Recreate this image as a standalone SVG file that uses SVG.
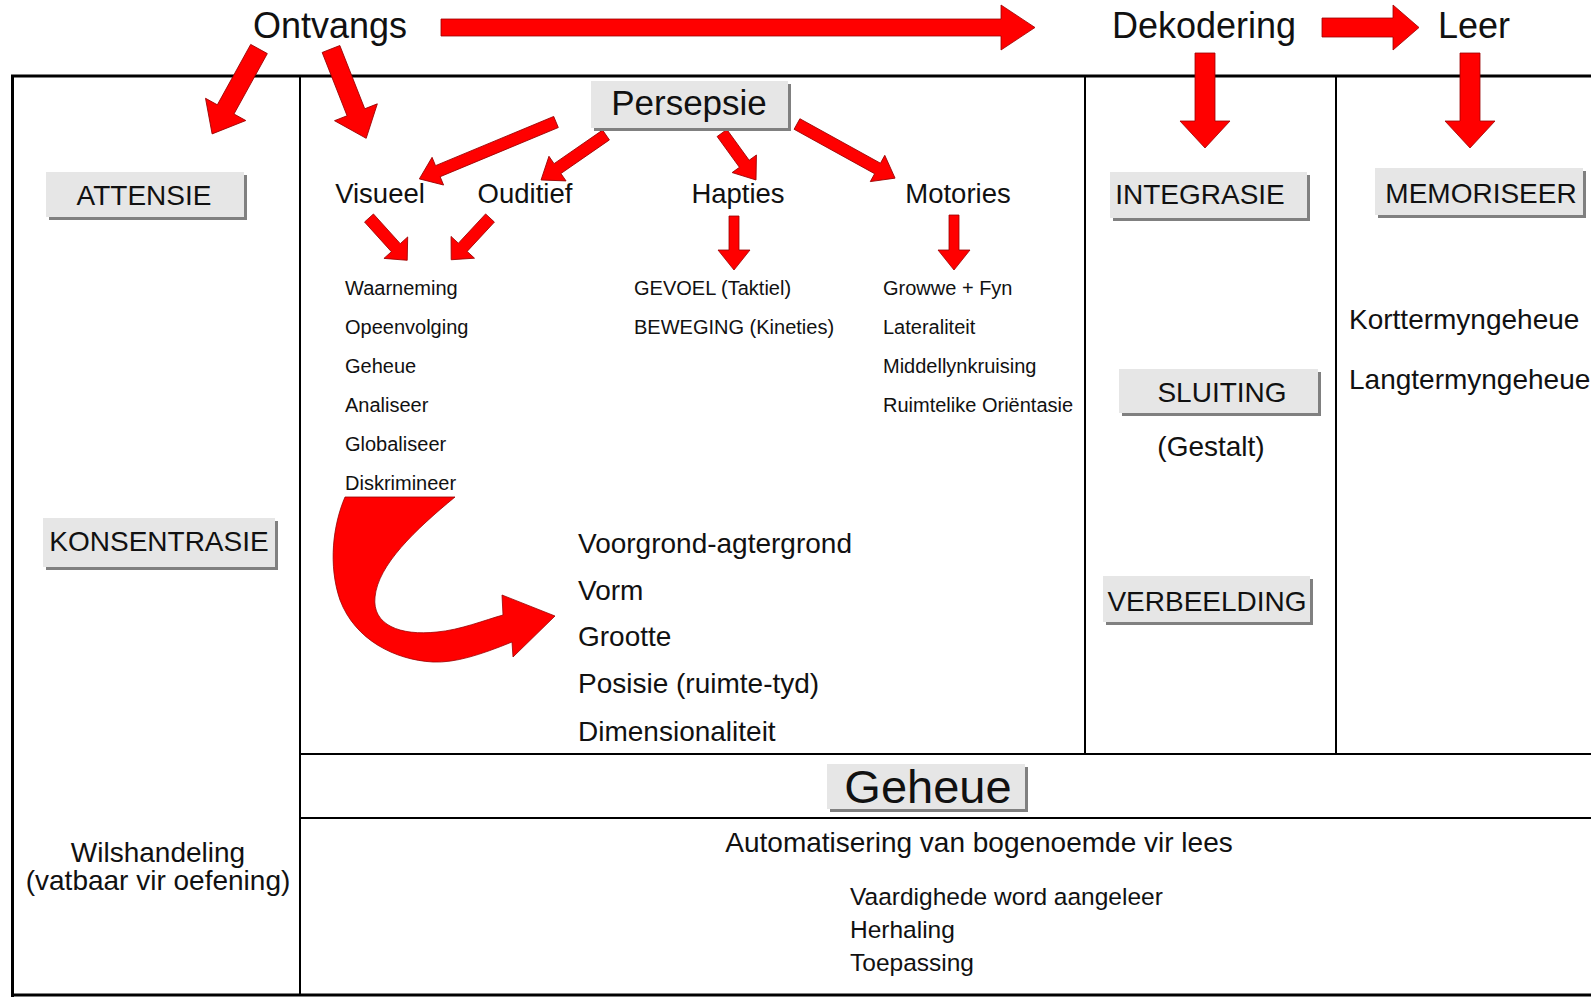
<svg xmlns="http://www.w3.org/2000/svg" width="1591" height="997" viewBox="0 0 1591 997">
<style>
text{font-family:"Liberation Sans",Arial,sans-serif;fill:#111}
.arr{fill:#ff0000;stroke:#9a0000;stroke-width:0.8}
.shadow{fill:#808080}
.box{fill:#e6e6e6}
.bl{font-size:28px;text-anchor:middle}
.h1{font-size:36px;text-anchor:middle}
.sub{font-size:27.5px;text-anchor:middle}
.sm{font-size:20px}
.md{font-size:28px}
.bt{font-size:24.5px}
.frame{stroke:#000;fill:none}
</style>
<rect width="1591" height="997" fill="#fff"/>
<g id="frame">
<line class="frame" x1="11" y1="76" x2="1591" y2="76" stroke-width="3"/>
<line class="frame" x1="12.5" y1="75" x2="12.5" y2="997" stroke-width="3"/>
<line class="frame" x1="11" y1="995" x2="1591" y2="995" stroke-width="3"/>
<line class="frame" x1="300" y1="76" x2="300" y2="995" stroke-width="2"/>
<line class="frame" x1="1085" y1="76" x2="1085" y2="754" stroke-width="2"/>
<line class="frame" x1="1336" y1="76" x2="1336" y2="754" stroke-width="2"/>
<line class="frame" x1="300" y1="754" x2="1591" y2="754" stroke-width="2"/>
<line class="frame" x1="300" y1="818" x2="1591" y2="818" stroke-width="2"/>
</g>
<g id="connectors">
<path class="arr" transform="translate(441,27.5)" d="M0,-8.5 H560 V-22.5 L594,0 L560,22.5 V8.5 H0Z"/>
<path class="arr" transform="translate(1322,27.5)" d="M0,-9.5 H71 V-22.5 L97,0 L71,22.5 V9.5 H0Z"/>
<path class="arr" transform="translate(1205,53) rotate(90)" d="M0,-10 H68 V-25 L95,0 L68,25 V10 H0Z"/>
<path class="arr" transform="translate(1470,53) rotate(90)" d="M0,-10 H68 V-25 L95,0 L68,25 V10 H0Z"/>
<path class="arr" transform="translate(259,49) rotate(118.9)" d="M0,-9.5 H69 V-23 L97,0 L69,23 V9.5 H0Z"/>
<path class="arr" transform="translate(331,49) rotate(68.5)" d="M0,-9.5 H68 V-23 L96,0 L68,23 V9.5 H0Z"/>
<path class="arr" transform="translate(556,122) rotate(157.4)" d="M0,-6 H128 V-15 L148,0 L128,15 V6 H0Z"/>
<path class="arr" transform="translate(606,135) rotate(145.3)" d="M0,-6 H59 V-15 L79,0 L59,15 V6 H0Z"/>
<path class="arr" transform="translate(722,133) rotate(54.1)" d="M0,-6 H38 V-15 L58,0 L38,15 V6 H0Z"/>
<path class="arr" transform="translate(797,124) rotate(28.9)" d="M0,-6 H92 V-15 L112,0 L92,15 V6 H0Z"/>
<path class="arr" transform="translate(369,218) rotate(47.9)" d="M0,-6 H40 V-16 L57,0 L40,16 V6 H0Z"/>
<path class="arr" transform="translate(490,218) rotate(132.9)" d="M0,-6 H40 V-16 L57,0 L40,16 V6 H0Z"/>
<path class="arr" transform="translate(734,216) rotate(90)" d="M0,-5 H34 V-16 L54,0 L34,16 V5 H0Z"/>
<path class="arr" transform="translate(954,215) rotate(90)" d="M0,-5 H35 V-16 L55,0 L35,16 V5 H0Z"/>
<path class="arr" d="M345,497 L455,497 C415,530 378,565 375,597 C372,625 400,636 437,632 C460,630 485,620 503,615 L502,595 L555,616 L513,657 L512,642 C480,655 455,663 433,662 C395,660 355,640 340,600 C328,565 333,525 345,497 Z"/>
</g>
<g id="ontvangs"><text class="h1" x="330" y="37.5">Ontvangs</text></g>
<g id="dekodering"><text class="h1" x="1204" y="37.5">Dekodering</text></g>
<g id="leer"><text class="h1" x="1474" y="37.5">Leer</text></g>
<g id="attensie"><rect class="shadow" x="49" y="175" width="198" height="45"/><rect class="box" x="46" y="172" width="198" height="45"/><text class="bl" x="144" y="205">ATTENSIE</text></g>
<g id="konsentrasie"><rect class="shadow" x="46" y="521" width="232" height="49"/><rect class="box" x="43" y="518" width="232" height="49"/><text class="bl" x="159" y="551">KONSENTRASIE</text></g>
<g id="persepsie"><rect class="shadow" x="594" y="84" width="197" height="47"/><rect class="box" x="591" y="81" width="197" height="47"/><text class="h1" x="689" y="115" style="font-size:35px">Persepsie</text></g>
<g id="integrasie"><rect class="shadow" x="1113" y="175" width="197" height="46"/><rect class="box" x="1110" y="172" width="197" height="46"/><text class="bl" x="1200" y="204">INTEGRASIE</text></g>
<g id="memoriseer"><rect class="shadow" x="1378" y="171" width="208" height="47"/><rect class="box" x="1375" y="168" width="208" height="47"/><text class="bl" x="1481" y="203">MEMORISEER</text></g>
<g id="sluiting"><rect class="shadow" x="1122" y="372" width="199" height="44"/><rect class="box" x="1119" y="369" width="199" height="44"/><text class="bl" x="1222" y="402">SLUITING</text></g>
<g id="gestalt"><text class="md" x="1211" y="456" text-anchor="middle">(Gestalt)</text></g>
<g id="verbeelding"><rect class="shadow" x="1106" y="579" width="207" height="46"/><rect class="box" x="1103" y="576" width="207" height="46"/><text class="bl" x="1207" y="611">VERBEELDING</text></g>
<g id="geheue"><rect class="shadow" x="830" y="767" width="198" height="45"/><rect class="box" x="827" y="764" width="198" height="45"/><text x="928" y="803" text-anchor="middle" style="font-size:47px">Geheue</text></g>
<g id="visueel"><text class="sub" x="380" y="203">Visueel</text></g>
<g id="ouditief"><text class="sub" x="525" y="203">Ouditief</text></g>
<g id="hapties"><text class="sub" x="738" y="203">Hapties</text></g>
<g id="motories"><text class="sub" x="958" y="203">Motories</text></g>
<g id="visueel-list">
<text class="sm" x="345" y="295">Waarneming</text>
<text class="sm" x="345" y="334">Opeenvolging</text>
<text class="sm" x="345" y="373">Geheue</text>
<text class="sm" x="345" y="412">Analiseer</text>
<text class="sm" x="345" y="451">Globaliseer</text>
<text class="sm" x="345" y="490">Diskrimineer</text>
</g>
<g id="hapties-list">
<text class="sm" x="634" y="295">GEVOEL (Taktiel)</text>
<text class="sm" x="634" y="334">BEWEGING (Kineties)</text>
</g>
<g id="motories-list">
<text class="sm" x="883" y="295">Growwe + Fyn</text>
<text class="sm" x="883" y="334">Lateraliteit</text>
<text class="sm" x="883" y="373">Middellynkruising</text>
<text class="sm" x="883" y="412">Ruimtelike Oriëntasie</text>
</g>
<g id="diskrimineer-list">
<text class="md" x="578" y="553">Voorgrond-agtergrond</text>
<text class="md" x="578" y="600">Vorm</text>
<text class="md" x="578" y="646">Grootte</text>
<text class="md" x="578" y="693">Posisie (ruimte-tyd)</text>
<text class="md" x="578" y="741">Dimensionaliteit</text>
</g>
<g id="geheue-types">
<text class="md" x="1349" y="329">Korttermyngeheue</text>
<text class="md" x="1349" y="389">Langtermyngeheue</text>
</g>
<g id="wilshandeling">
<text class="md" x="158" y="862" text-anchor="middle">Wilshandeling</text>
<text class="md" x="158" y="890" text-anchor="middle">(vatbaar vir oefening)</text>
</g>
<g id="automatisering">
<text class="md" x="979" y="852" text-anchor="middle">Automatisering van bogenoemde vir lees</text>
<text class="bt" x="850" y="905">Vaardighede word aangeleer</text>
<text class="bt" x="850" y="938">Herhaling</text>
<text class="bt" x="850" y="971">Toepassing</text>
</g>
</svg>
